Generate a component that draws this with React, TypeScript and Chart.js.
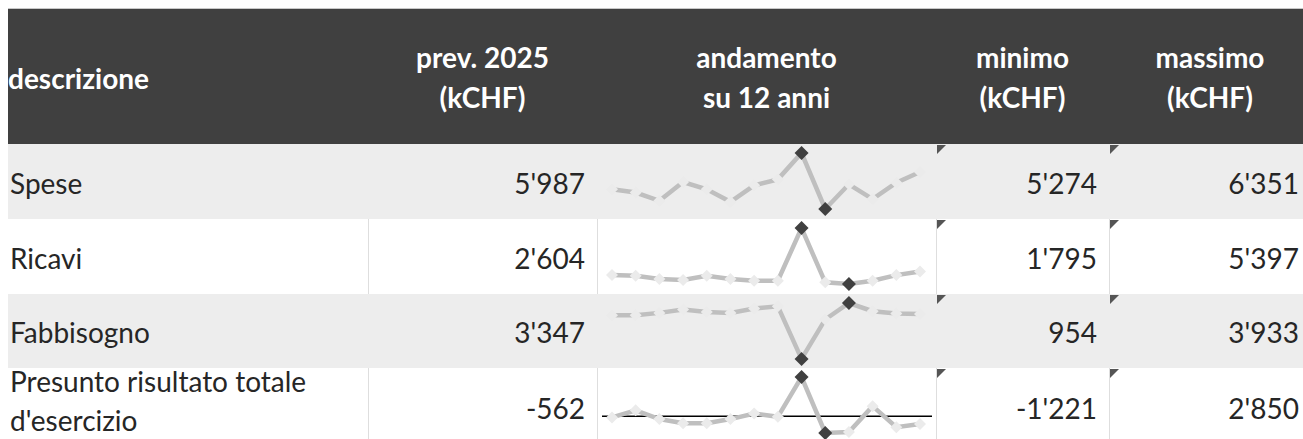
import React, { useEffect, useRef } from "react";
import { Chart, registerables } from "chart.js";

Chart.register(...registerables);

// ---------------- DATA ----------------
const headerLabels: string[][] = [
  ["descrizione"],
  ["prev. 2025", "(kCHF)"],
  ["andamento", "su 12 anni"],
  ["minimo", "(kCHF)"],
  ["massimo", "(kCHF)"],
];
const descriptions: string[][] = [["Spese"], ["Ricavi"], ["Fabbisogno"], ["Presunto risultato totale", "d'esercizio"]];
const prev2025 = [5987, 2604, 3347, -562];
const minimo = [5274, 1795, 954, -1221];
const massimo = [6351, 5397, 3933, 2850];
const years = ["2012", "2013", "2014", "2015", "2016", "2017", "2018", "2019", "2020", "2021", "2022", "2023", "2024", "2025"];
const spese = [5654, 5591, 5432, 5793, 5654, 5413, 5730, 5844, 6351, 5274, 5749, 5464, 5781, 5987];
const ricavi = [2367, 2325, 2113, 2049, 2325, 2113, 2007, 2007, 5397, 1901, 1795, 2007, 2367, 2604];
const fabbisogno = [3285, 3285, 3407, 3582, 3460, 3407, 3635, 3758, 954, 3057, 3933, 3495, 3372, 3347];
const risultato = [-91, 426, -209, -515, -515, -209, 191, -44, 2850, -1221, -1150, 732, -797, -562];
const series = [spese, ricavi, fabbisogno, risultato];

// ---------------- STYLE / GEOMETRY ----------------
const colX = [8, 368, 597, 936, 1109, 1311];
const rowTop = [144, 219, 294, 368];
const rowH = [75, 75, 74, 78];
const rowBg = ["#ededed", "#ffffff", "#ededed", "#ffffff"];
const numBaseline = [194, 269, 343, 419];
const descBaselines = [[194], [269], [343], [392, 431]];
const FONT = "Lato, 'Open Sans', sans-serif";
const TEXT = "#262626";
const LINE = "#bfbfbf";
const LIGHT_MARK = "#ebebeb";
const DARK_MARK = "#404040";

const fmt = (v: number) => {
  const s = Math.abs(v).toString().replace(/\B(?=(\d{3})+(?!\d))/g, "'");
  return (v < 0 ? "-" : "") + s;
};

const axisPlugin = {
  id: "zeroAxis",
  beforeDatasetsDraw(chart: any) {
    const y = chart.scales.y;
    if (!(y.min < 0 && y.max > 0)) return;
    const py = y.getPixelForValue(0);
    const ctx = chart.ctx;
    ctx.save();
    ctx.strokeStyle = "#000000";
    ctx.lineWidth = 1.5;
    ctx.beginPath();
    ctx.moveTo(5, py);
    ctx.lineTo(chart.width - 4, py);
    ctx.stroke();
    ctx.restore();
  },
};

function Sparkline({ values, top, height }: { values: number[]; top: number; height: number }) {
  const ref = useRef<HTMLCanvasElement>(null);
  useEffect(() => {
    if (!ref.current) return;
    const mn = Math.min(...values);
    const mx = Math.max(...values);
    const colors = values.map((v) => (v === mn || v === mx ? DARK_MARK : LIGHT_MARK));
    const radii = values.map((v) => (v === mn || v === mx ? 7 : 6));
    const chart = new Chart(ref.current, {
      type: "line",
      data: {
        labels: years,
        datasets: [
          {
            data: values,
            borderColor: LINE,
            borderWidth: 4.5,
            tension: 0,
            pointStyle: "rectRot",
            pointRadius: radii,
            pointBackgroundColor: colors,
            pointBorderColor: colors,
            pointBorderWidth: 0,
            clip: false as any,
          },
        ],
      },
      options: {
        responsive: false,
        maintainAspectRatio: false,
        animation: false,
        events: [],
        layout: { padding: { left: 15, right: 16, top: 9, bottom: height - 65 } },
        plugins: { legend: { display: false }, tooltip: { enabled: false } },
        scales: {
          x: { display: false, offset: false },
          y: { display: false, min: mn, max: mx },
        },
      },
      plugins: [axisPlugin],
    });
    return () => chart.destroy();
  }, [values, height]);
  return (
    <canvas
      ref={ref}
      width={colX[3] - colX[2]}
      height={height}
      style={{ position: "absolute", left: colX[2], top, width: colX[3] - colX[2], height }}
    />
  );
}

export default function App() {
  const abs = (s: React.CSSProperties): React.CSSProperties => ({ position: "absolute", ...s });
  return (
    <div style={abs({ left: 0, top: 0, width: 1303, height: 439, overflow: "hidden", background: "#fff", fontFamily: FONT })}>
      {/* header */}
      <div style={abs({ left: colX[0], top: 8, width: 1303, height: 1, background: "#c8c8c8" })} />
      <div style={abs({ left: colX[0], top: 9, width: 1303, height: 135, background: "#404040" })} />
      {/* rows */}
      {rowTop.map((t, i) => (
        <div key={"bg" + i} style={abs({ left: colX[0], top: t, width: 1303, height: rowH[i], background: rowBg[i] })} />
      ))}
      {rowTop.map((t, i) =>
        rowBg[i] === "#ffffff"
          ? [1, 2, 3, 4].map((c) => (
              <div key={"sep" + i + c} style={abs({ left: colX[c], top: t, width: 1, height: Math.min(rowH[i], 439 - t), background: "#dedede" })} />
            ))
          : null
      )}
      {/* header text */}
      <div style={abs({ left: 8, top: 58, fontSize: 28, lineHeight: "40px", fontWeight: 700, color: "#fff", whiteSpace: "nowrap" })}>
        {headerLabels[0][0]}
      </div>
      {headerLabels.slice(1).map((lines, k) => (
        <div
          key={"h" + k}
          style={abs({
            left: colX[k + 1],
            width: colX[k + 2] - colX[k + 1],
            top: 38,
            fontSize: 28,
            lineHeight: "39.5px",
            fontWeight: 700,
            color: "#fff",
            textAlign: "center",
            whiteSpace: "nowrap",
          })}
        >
          {lines.map((l, j) => (
            <div key={j}>{l}</div>
          ))}
        </div>
      ))}
      {/* body text */}
      {descriptions.map((lines, i) =>
        lines.map((l, j) => (
          <div
            key={"d" + i + j}
            style={abs({
              left: 10,
              top: descBaselines[i][j] - 25,
              fontSize: 28,
              lineHeight: "28px",
              color: TEXT,
              whiteSpace: "nowrap",
            })}
          >
            {l}
          </div>
        ))
      )}
      {[prev2025, minimo, massimo].map((arr, c) =>
        arr.map((v, i) => {
          const col = c === 0 ? 1 : c + 2;
          return (
            <div
              key={"n" + c + i}
              style={abs({
                left: colX[col],
                width: colX[col + 1] - colX[col] - 12,
                top: numBaseline[i] - 29,
                fontSize: 28,
                lineHeight: "36px",
                color: TEXT,
                textAlign: "right",
                whiteSpace: "nowrap",
              })}
            >
              {fmt(v)}
            </div>
          );
        })
      )}
      {/* corner markers */}
      {rowTop.map((t, i) =>
        [3, 4].map((c) => (
          <div
            key={"tri" + i + c}
            style={abs({
              left: colX[c] + 1,
              top: t + 1,
              width: 0,
              height: 0,
              borderTop: "9px solid #555555",
              borderRight: "9px solid transparent",
            })}
          />
        ))
      )}
      {/* sparklines */}
      {series.map((s, i) => (
        <Sparkline key={"sp" + i} values={s} top={rowTop[i]} height={Math.min(rowH[i], 439 - rowTop[i] + 7)} />
      ))}
    </div>
  );
}
